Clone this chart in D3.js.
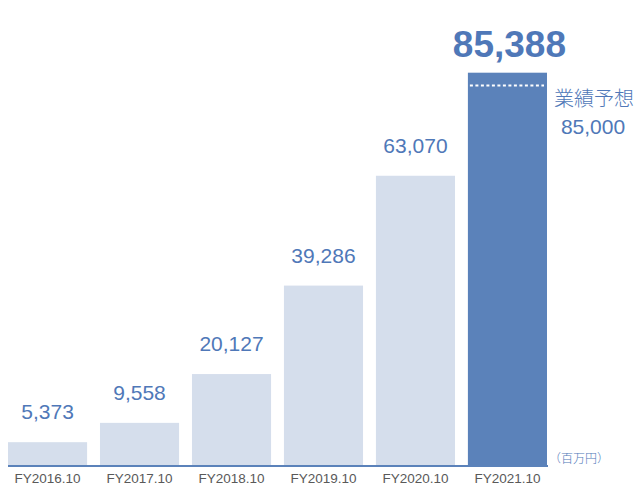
<!DOCTYPE html>
<html>
<head>
<meta charset="utf-8">
<script src="https://cdn.jsdelivr.net/npm/d3@7"></script>
<style>
  body { margin: 0; background: #fff; }
  svg { display: block; font-family: 'Liberation Sans', Arial, sans-serif; }
</style>
</head>
<body>
<div id="chart"></div>
<script>
// data
const categories = ['FY2016.10', 'FY2017.10', 'FY2018.10', 'FY2019.10', 'FY2020.10', 'FY2021.10'];
const values = [5373, 9558, 20127, 39286, 63070, 85388];
const forecastLabel = '業績予想';
const forecastValue = 85000;
const unitLabel = '（百万円）';

const width = 638;
const height = 486;
const baseY = 467;

const lightColor = '#d5deec';
const darkColor = '#5b82ba';
const textBlue = '#4f78b8';

const svg = d3.select('#chart').append('svg')
  .attr('width', width)
  .attr('height', height);

/* Scale */
const x = d3.scaleBand()
  .domain(categories)
  .range([8, 547])
  .paddingInner(0.14)
  .paddingOuter(0);

const y = d3.scaleLinear()
  .domain([0, 85388])
  .range([baseY, 72.7]);

const last = values.length - 1;

/* Bars */
svg.selectAll('.bar')
  .data(values).enter()
  .append('rect')
  .attr('class', 'bar')
  .attr('x', (d, i) => x(categories[i]))
  .attr('y', d => y(d))
  .attr('width', x.bandwidth())
  .attr('height', d => baseY - y(d))
  .attr('fill', (d, i) => i === last ? darkColor : lightColor);

/* Value labels */
svg.selectAll('.val')
  .data(values).enter()
  .append('text')
  .attr('class', 'val')
  .attr('x', (d, i) => x(categories[i]) + x.bandwidth() / 2 + (i === last ? 2 : 0))
  .attr('y', (d, i) => i === last ? y(d) - 16 : y(d) - 23)
  .attr('text-anchor', 'middle')
  .attr('fill', textBlue)
  .style('font-size', (d, i) => i === last ? '37px' : '21px')
  .style('font-weight', (d, i) => i === last ? 'bold' : 'normal')
  .text(d => d3.format(',')(d));

/* Forecast dotted line */
const lastX = x(categories[last]);
const fy = y(forecastValue) + 11;
svg.append('line')
  .attr('x1', lastX + 2)
  .attr('x2', lastX + x.bandwidth() - 3)
  .attr('y1', fy)
  .attr('y2', fy)
  .attr('stroke', '#fff')
  .attr('stroke-width', 2)
  .attr('stroke-dasharray', '3,2.5');

svg.append('text')
  .attr('x', 594)
  .attr('y', fy + 21)
  .attr('text-anchor', 'middle')
  .attr('fill', textBlue)
  .style('font-family', "'Noto Sans CJK JP', sans-serif")
  .style('font-size', '20px')
  .style('font-weight', 300)
  .text(forecastLabel);

svg.append('text')
  .attr('x', 593)
  .attr('y', fy + 49)
  .attr('text-anchor', 'middle')
  .attr('fill', textBlue)
  .style('font-size', '21px')
  .text(d3.format(',')(forecastValue));

/* Axis */
const xAxis = d3.axisBottom(x).tickSize(0).tickPadding(7);
const axisG = svg.append('g')
  .attr('transform', `translate(0, ${baseY - 1})`)
  .call(xAxis);
axisG.select('.domain')
  .attr('d', 'M8,0H548')
  .attr('stroke', darkColor)
  .attr('stroke-width', 2);
axisG.selectAll('text')
  .attr('fill', '#595959')
  .style('font-size', '13.5px')
  .style('font-family', "'Liberation Sans', Arial, sans-serif");

svg.append('text')
  .attr('x', 549)
  .attr('y', 463)
  .attr('fill', textBlue)
  .style('font-family', "'Noto Sans CJK JP', sans-serif")
  .style('font-size', '12px')
  .style('font-weight', 300)
  .text(unitLabel);
</script>
</body>
</html>
